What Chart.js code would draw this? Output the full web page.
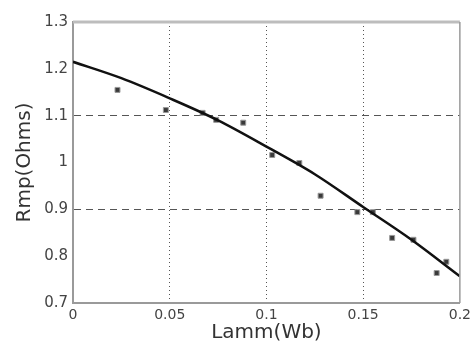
<!DOCTYPE html>
<html>
<head>
<meta charset="utf-8">
<script src="https://cdn.jsdelivr.net/npm/chart.js@4"></script>
<style>
  html, body { margin: 0; padding: 0; background: #fff; }
  #wrap { width: 475px; height: 346px; }
</style>
</head>
<body>
<div id="wrap"><canvas id="rmpChart"></canvas></div>
<script>
// measured points (Lamm, Rmp)
const lammPts = [0.023, 0.048, 0.067, 0.074, 0.088, 0.103, 0.117, 0.128, 0.147, 0.155, 0.165, 0.176, 0.188, 0.193]
const rmpPts  = [1.155, 1.112, 1.106, 1.091, 1.085, 1.016, 0.999, 0.929, 0.894, 0.894, 0.839, 0.835, 0.764, 0.788]

// fitted curve
const lammFit = [0, 0.025, 0.05, 0.075, 0.1, 0.125, 0.15, 0.175, 0.2]
const rmpFit  = [1.215, 1.180, 1.137, 1.090, 1.034, 0.975, 0.905, 0.835, 0.757]

const xGrid = [0.05, 0.1, 0.15]
const yGrid = [1.1, 0.9]

const fmt = v => String(+v.toFixed(2))
const near = (arr, v) => arr.some(g => Math.abs(g - v) < 1e-6)

// box around plot area (top + right edges like matlab axes)
const boxPlugin = {
    id: 'box',
    afterDraw(chart) {
        const { ctx, chartArea: a } = chart
        ctx.save()
        ctx.strokeStyle = '#bdbdbd'
        ctx.lineWidth = 3
        ctx.beginPath()
        ctx.moveTo(a.left, a.top)
        ctx.lineTo(a.right, a.top)
        ctx.stroke()
        ctx.strokeStyle = '#9a9a9a'
        ctx.lineWidth = 1.5
        ctx.beginPath()
        ctx.moveTo(a.right, a.top)
        ctx.lineTo(a.right, a.bottom)
        ctx.stroke()
        ctx.restore()
    }
}

const data = {
    datasets: [{
        type: 'line',
        data: lammFit.map((x, i) => ({ x, y: rmpFit[i] })),
        borderColor: '#111',
        borderWidth: 2.5,
        pointRadius: 0,
        cubicInterpolationMode: 'monotone',
        order: 1
    }, {
        type: 'scatter',
        data: lammPts.map((x, i) => ({ x, y: rmpPts[i] })),
        pointStyle: 'rect',
        pointRadius: 3.5,
        backgroundColor: '#3a3a3a',
        borderColor: '#999',
        borderWidth: 1,
        order: 2
    }]
}

const options = {
    responsive: true,
    maintainAspectRatio: false,
    animation: false,
    layout: { padding: { left: 5, right: 12, top: 22, bottom: 0 } },
    plugins: { legend: { display: false }, tooltip: { enabled: false } },
    scales: {
        x: {
            type: 'linear',
            min: 0, max: 0.2,
            ticks: { stepSize: 0.05, callback: fmt, color: '#444', padding: 4,
                     font: { family: 'DejaVu Sans', size: 14 }, maxRotation: 0 },
            grid: {
                drawTicks: false,
                color: ctx => near(xGrid, ctx.tick.value) ? '#555' : 'rgba(0,0,0,0)',
                lineWidth: 1
            },
            border: { display: true, color: '#9a9a9a', width: 2, dash: [1, 3] },
            title: { display: true, text: 'Lamm(Wb)', color: '#333',
                     font: { family: 'DejaVu Sans', size: 20 }, padding: { top: 0, bottom: 1 } },
            afterFit: s => { s.height = 43 }
        },
        y: {
            type: 'linear',
            min: 0.7, max: 1.3,
            ticks: { stepSize: 0.1, callback: fmt, color: '#444', padding: 5,
                     font: { family: 'DejaVu Sans', size: 15 } },
            grid: {
                drawTicks: false,
                color: ctx => near(yGrid, ctx.tick.value) ? '#555' : 'rgba(0,0,0,0)',
                lineWidth: 1
            },
            border: { display: true, color: '#9a9a9a', width: 2, dash: [7, 5] },
            title: { display: true, text: 'Rmp(Ohms)', color: '#333',
                     font: { family: 'DejaVu Sans', size: 20 }, padding: { top: 8, bottom: 0 } },
            afterFit: s => { s.width = 68 }
        }
    }
}

new Chart('rmpChart', { data, options, plugins: [boxPlugin] })
</script>
</body>
</html>
